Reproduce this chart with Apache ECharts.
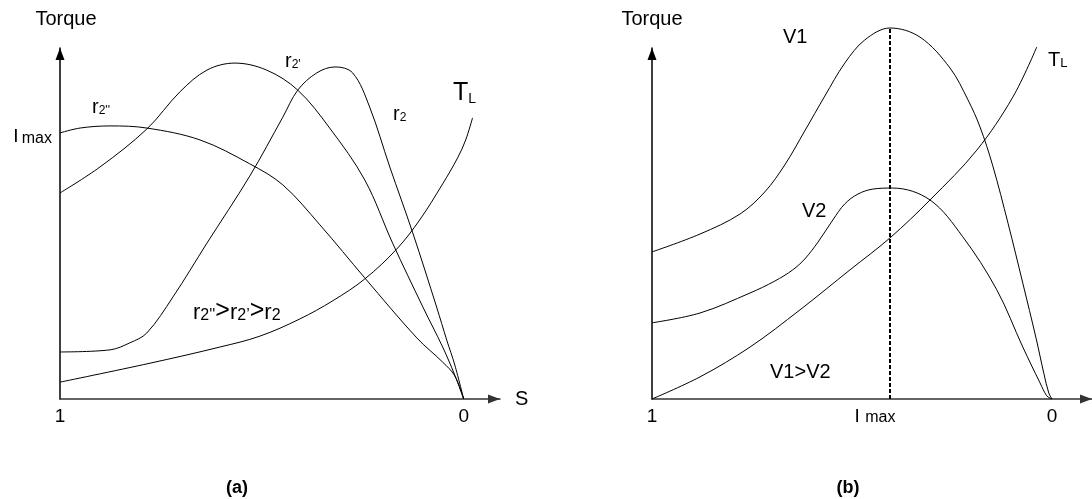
<!DOCTYPE html>
<html>
<head>
<meta charset="utf-8">
<script src="https://cdn.jsdelivr.net/npm/echarts@6/dist/echarts.min.js"></script>
<style>
  html, body { margin: 0; padding: 0; background: #fff; }
  #chart { width: 1092px; height: 499px; }
</style>
</head>
<body>
<div id="chart"></div>
<script>
// (a) torque vs slip for three rotor resistances, plus the load torque
const slipR2dd   = [1, 0.950, 0.876, 0.785, 0.653, 0.530, 0.448, 0.356, 0.245, 0.116, 0.052, 0.022, 0];
const torqueR2dd = [75.8, 77.2, 77.8, 77.2, 73.8, 67.0, 61.0, 49.6, 34.5, 17.4, 10.5, 6.6, 0];

const slipR2d    = [1, 0.901, 0.785, 0.703, 0.636, 0.567, 0.488, 0.411, 0.332, 0.245, 0.176, 0.101, 0.052, 0.022, 0];
const torqueR2d  = [58.7, 66.1, 76.9, 87.5, 93.7, 95.7, 93.7, 88.0, 77.2, 62.4, 44.4, 26.2, 14.8, 6.8, 0];

const slipR2     = [1, 0.876, 0.827, 0.785, 0.720, 0.636, 0.530, 0.448, 0.411, 0.364, 0.319, 0.275, 0.233, 0.183, 0.126, 0.067, 0.042, 0.022, 0];
const torqueR2   = [13.4, 14.0, 16.0, 18.8, 29.1, 44.4, 63.5, 80.3, 88.0, 92.9, 94.6, 92.9, 83.2, 66.1, 47.3, 26.2, 16.8, 9.7, 0];

const slipLoadA   = [1, 0.777, 0.604, 0.505, 0.406, 0.324, 0.245, 0.166, 0.109, 0.052, 0.015, -0.005, -0.022];
const torqueLoadA = [4.8, 10.2, 14.8, 17.9, 22.8, 28.0, 34.2, 42.7, 51.0, 61.3, 68.7, 73.8, 80.1];

// (b) torque vs slip for two supply voltages, plus the load torque
const slipV1   = [1, 0.880, 0.780, 0.718, 0.668, 0.618, 0.568, 0.518, 0.468, 0.405, 0.330, 0.255, 0.210, 0.180, 0.148, 0.110, 0.073, 0.040, 0.020, 0.008, 0];
const torqueV1 = [41.9, 47.0, 52.7, 59.0, 66.7, 76.4, 86.3, 95.7, 102.3, 105.7, 103.1, 94.3, 85.2, 77.5, 66.4, 50.1, 33.0, 17.4, 7.1, 1.7, 0];

const slipV2   = [1, 0.880, 0.755, 0.693, 0.648, 0.618, 0.585, 0.548, 0.518, 0.485, 0.448, 0.398, 0.305, 0.223, 0.138, 0.073, 0.030, 0.013, 0];
const torqueV2 = [21.7, 24.5, 30.2, 33.6, 36.8, 39.9, 44.7, 51.0, 55.6, 58.4, 59.8, 60.1, 56.7, 46.2, 31.1, 14.8, 4.6, 0.9, 0];

const slipLoadB   = [1, 0.880, 0.755, 0.630, 0.505, 0.405, 0.305, 0.188, 0.098, 0.038];
const torqueLoadB = [0, 6.3, 14.8, 25.4, 36.8, 45.9, 56.7, 70.9, 86.0, 100.3];

// tick labels
const slipTicksA = [1, 0];
const slipTicksB = [1, 0.405, 0];
const imaxSlipB = 0.405;
const imaxTorqueA = 74.6;

const FONT = '"Liberation Sans", Arial, Helvetica, sans-serif';
const chart = echarts.init(document.getElementById('chart'), null, { renderer: 'canvas' });

// slip runs from 1 (left) to 0 (right); the axis value is 1 - slip
const toAxis = s => 1 - s;
const pts = (slip, torque) => slip.map((s, i) => [toAxis(s), torque[i]]);

const imaxRichY = {
  i: { fontSize: 19, fontFamily: FONT, color: '#000', verticalAlign: 'bottom' },
  m: { fontSize: 16, fontFamily: FONT, color: '#000', verticalAlign: 'bottom' }
};
const imaxRichX = {
  i: { fontSize: 19, fontFamily: FONT, color: '#000', verticalAlign: 'bottom' },
  m: { fontSize: 16, fontFamily: FONT, color: '#000', verticalAlign: 'bottom', padding: [0, 30, 0, 0] }
};

function slipText(v) {
  const s = Math.round((1 - v) * 1000) / 1000;
  if (s === imaxSlipB) return '{i|I} {m|max}';
  return String(s);
}

function xAxisCfg(gridIndex, max, ticks, name) {
  return {
    type: 'value', gridIndex, min: 0, max,
    axisLine: {
      show: true, onZero: false,
      symbol: ['none', 'triangle'], symbolSize: [9, 12], symbolOffset: [0, -6],
      lineStyle: { color: '#333', width: 1.5 }
    },
    axisTick: { show: false },
    splitLine: { show: false },
    axisLabel: {
      customValues: ticks.map(toAxis),
      formatter: slipText,
      rich: imaxRichX,
      margin: 8, color: '#000', fontSize: 19, fontFamily: FONT
    },
    name, nameLocation: 'end', nameGap: 15,
    nameTextStyle: { fontSize: 20, fontFamily: FONT, color: '#000' }
  };
}

function yAxisCfg(gridIndex, label, padLeft) {
  return {
    type: 'value', gridIndex, min: 0, max: 100,
    axisLine: {
      show: true, onZero: false,
      symbol: ['none', 'triangle'], symbolSize: [9, 12], symbolOffset: [0, -6],
      lineStyle: { color: '#000', width: 1.5 }
    },
    axisTick: { show: false },
    splitLine: { show: false },
    axisLabel: label,
    name: 'Torque', nameLocation: 'end', nameGap: 19,
    nameTextStyle: { fontSize: 20, fontFamily: FONT, color: '#000', padding: [0, 0, 0, padLeft] }
  };
}

const lineBase = {
  type: 'line', showSymbol: false, smooth: 0.35, clip: false, silent: true,
  lineStyle: { color: '#000', width: 1 }
};

function curve(name, xIdx, slip, torque, extra) {
  return Object.assign({}, lineBase, { name, xAxisIndex: xIdx, yAxisIndex: xIdx, data: pts(slip, torque) }, extra || {});
}

// free-standing curve labels, built from [text, fontSize] parts sharing a baseline
function richLabel(left, baseline, parts, opts) {
  const rich = {};
  let text = '';
  parts.forEach(([t, size], i) => {
    rich['p' + i] = { fontSize: size, fontFamily: FONT, fill: '#000', verticalAlign: 'bottom',
      fontWeight: (opts && opts.bold) ? 'bold' : 'normal' };
    text += '{p' + i + '|' + t + '}';
  });
  return {
    type: 'text', x: left, y: baseline + 4, silent: true,
    style: { text, rich, align: (opts && opts.align) || 'left', verticalAlign: 'bottom' }
  };
}

const labels = [
  richLabel(92, 113, [['r', 20], ["2''", 12]]),
  richLabel(285, 67, [['r', 20], ["2'", 12]]),
  richLabel(393, 120, [['r', 20], ['2', 12]]),
  richLabel(453, 102, [['T', 25], ['L', 14]]),
  richLabel(193, 320, [['r', 22], ["2''", 16], ['>', 25], ['r', 22], ['2\u2019', 16], ['>', 25], ['r', 22], ['2', 16]]),
  richLabel(783, 43, [['V1', 20]]),
  richLabel(802, 217, [['V2', 20]]),
  richLabel(770, 378, [['V1>V2', 20]]),
  richLabel(1048, 66, [['T', 20], ['L', 13]]),
  richLabel(237, 493, [['(a)', 18]], { align: 'center', bold: true }),
  richLabel(848, 493, [['(b)', 18]], { align: 'center', bold: true })
];

// dashed guide at the slip of maximum torque, from the axis up to the V1 peak
const v1Peak = Math.max(...torqueV1);
const imaxGuide = [[toAxis(imaxSlipB), 0], [toAxis(imaxSlipB), v1Peak]];

chart.setOption({
  animation: false,
  backgroundColor: '#fff',
  grid: [
    { left: 60, top: 48, width: 440, height: 351 },
    { left: 652, top: 48, width: 440, height: 351 }
  ],
  xAxis: [
    xAxisCfg(0, 1.09, slipTicksA, 'S'),
    xAxisCfg(1, 1.10, slipTicksB, '')
  ],
  yAxis: [
    yAxisCfg(0, {
      customValues: [imaxTorqueA],
      formatter: () => '{i|I} {m|max}',
      rich: imaxRichY, margin: 8, color: '#000', fontFamily: FONT
    }, 12),
    yAxisCfg(1, { show: false }, 0)
  ],
  series: [
    curve("r2''", 0, slipR2dd, torqueR2dd),
    curve("r2'", 0, slipR2d, torqueR2d),
    curve('r2', 0, slipR2, torqueR2),
    curve('TL (a)', 0, slipLoadA, torqueLoadA),
    curve('V1', 1, slipV1, torqueV1),
    curve('V2', 1, slipV2, torqueV2),
    curve('TL (b)', 1, slipLoadB, torqueLoadB),
    {
      type: 'line', name: 'I max', xAxisIndex: 1, yAxisIndex: 1, data: imaxGuide,
      showSymbol: false, clip: false, silent: true,
      lineStyle: { color: '#000', width: 2, type: [4, 2] }
    }
  ],
  graphic: labels
});
</script>
</body>
</html>
